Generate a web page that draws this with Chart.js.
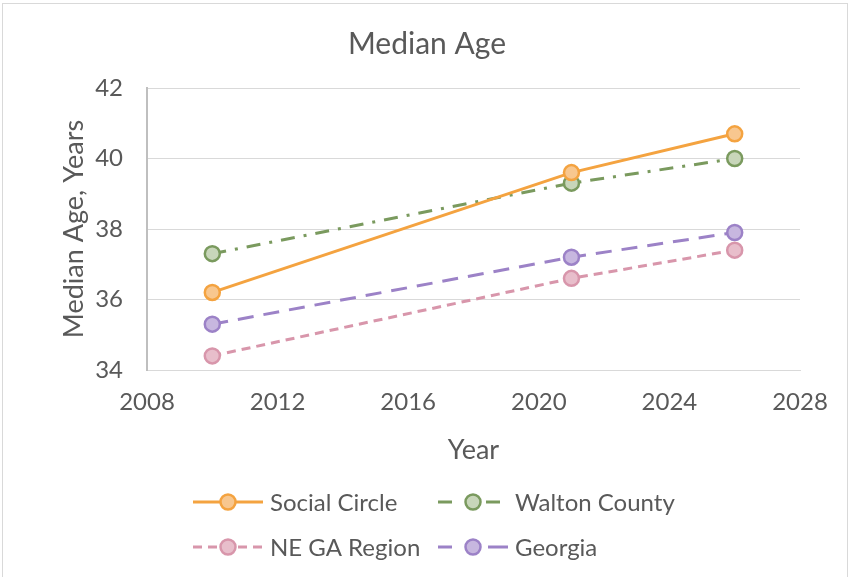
<!DOCTYPE html>
<html>
<head>
<meta charset="utf-8">
<script src="https://cdn.jsdelivr.net/npm/chart.js@4.4.1/dist/chart.umd.min.js"></script>
<style>
  html, body { margin: 0; padding: 0; background: #ffffff; }
  #wrap { position: relative; width: 849px; height: 577px; box-sizing: border-box; }
  #frame { position: absolute; left: 2px; top: 3px; width: 846px; height: 580px; border: 1px solid #d9d9d9; box-sizing: border-box; pointer-events: none; }
  canvas { display: block; }
</style>
</head>
<body>
<div id="wrap">
  <canvas id="c" width="849" height="577"></canvas>
  <div id="frame"></div>
</div>
<script>
const years = [2010, 2021, 2026];
const seriesNames = ["Social Circle", "Walton County", "NE GA Region", "Georgia"];
const socialCircle = [36.2, 39.6, 40.7];
const waltonCounty = [37.3, 39.3, 40.0];
const neGaRegion = [34.4, 36.6, 37.4];
const georgia = [35.3, 37.2, 37.9];
const xTicks = [2008, 2012, 2016, 2020, 2024, 2028];
const yTicks = [34, 36, 38, 40, 42];

const styles = [
  { line: "#F4A340", fill: "#F8C78F", dash: [], legendDash: [] },
  { line: "#7A9A5E", fill: "#C8D6BA", dash: [14, 9, 3, 9], legendDash: [14, 34, 14, 20] },
  { line: "#D896AB", fill: "#E8BECB", dash: [9, 6], legendDash: [9, 6] },
  { line: "#9C82C7", fill: "#C7B7DF", dash: [16, 10], legendDash: [14, 36, 20, 20] }
];
const allValues = [socialCircle, waltonCounty, neGaRegion, georgia];

const datasets = allValues.map((vals, i) => ({
  label: seriesNames[i],
  data: years.map((y, j) => ({ x: y, y: vals[j] })),
  showLine: true,
  borderColor: styles[i].line,
  backgroundColor: styles[i].fill,
  borderWidth: 3,
  borderDash: styles[i].dash,
  pointRadius: 7.5,
  pointBorderWidth: 2.5,
  pointBorderColor: styles[i].line,
  pointBackgroundColor: styles[i].fill,
  pointHoverRadius: 7.5
}));

const FONT = "Lato, 'Open Sans', sans-serif";
const TXT = "#595959";

const legendPlugin = {
  id: "customLegend",
  afterDraw(chart) {
    const ctx = chart.ctx;
    const ds = chart.data.datasets;
    const cols = [193, 438];
    const textX = [270, 515];
    const rows = [502, 547];
    const len = 70;
    ds.forEach((d, i) => {
      const c = i % 2;
      const x0 = cols[c];
      const y = rows[Math.floor(i / 2)];
      ctx.save();
      ctx.strokeStyle = d.borderColor;
      ctx.lineWidth = 3;
      ctx.setLineDash(styles[i].legendDash);
      ctx.beginPath();
      ctx.moveTo(x0, y);
      ctx.lineTo(x0 + len, y);
      ctx.stroke();
      ctx.setLineDash([]);
      ctx.beginPath();
      ctx.arc(x0 + len / 2, y, 7.5, 0, Math.PI * 2);
      ctx.fillStyle = d.pointBackgroundColor;
      ctx.fill();
      ctx.lineWidth = 2.5;
      ctx.strokeStyle = d.pointBorderColor;
      ctx.stroke();
      ctx.fillStyle = TXT;
      ctx.font = "24px " + FONT;
      ctx.textBaseline = "middle";
      ctx.textAlign = "left";
      ctx.fillText(d.label, textX[c], y + 1);
      ctx.restore();
    });
  }
};

new Chart(document.getElementById("c"), {
  type: "scatter",
  data: { datasets },
  plugins: [legendPlugin],
  options: {
    responsive: false,
    animation: false,
    layout: { padding: { top: 10, left: 54, right: 49, bottom: 109 } },
    plugins: {
      legend: { display: false },
      tooltip: { enabled: false },
      title: {
        display: true,
        text: "Median Age",
        color: TXT,
        font: { family: FONT, size: 30, weight: "normal" },
        padding: { top: 16, bottom: 26 }
      }
    },
    scales: {
      x: {
        type: "linear",
        min: 2008,
        max: 2028,
        afterBuildTicks: (s) => { s.ticks = xTicks.map(v => ({ value: v })); },
        afterFit: (s) => { s.height = 98; },
        ticks: { color: TXT, font: { family: FONT, size: 24 }, padding: 18, maxRotation: 0, callback: (v) => String(v) },
        grid: { display: false, drawTicks: false },
        border: { display: true, color: "#d9d9d9", width: 1 },
        title: {
          display: true,
          text: "Year",
          color: TXT,
          font: { family: FONT, size: 27 },
          padding: { top: 10, bottom: 2 }
        }
      },
      y: {
        min: 34,
        max: 42,
        afterBuildTicks: (s) => { s.ticks = yTicks.map(v => ({ value: v })); },
        afterFit: (s) => { s.width = 93; },
        ticks: { color: TXT, font: { family: FONT, size: 24 }, padding: 24, callback: (v) => String(v) },
        grid: { color: "#d9d9d9", drawTicks: false, lineWidth: 1 },
        border: { display: true, color: "#bfbfbf", width: 2 },
        title: {
          display: true,
          text: "Median Age, Years",
          color: TXT,
          font: { family: FONT, size: 27 },
          padding: { top: 4, bottom: 4 }
        }
      }
    }
  }
});
</script>
</body>
</html>
